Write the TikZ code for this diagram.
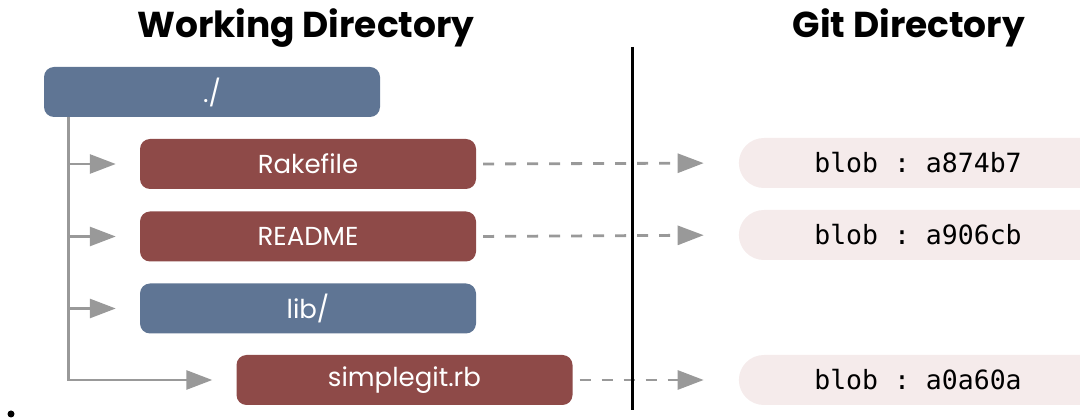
\documentclass[tikz,border=0pt]{standalone}
\usepackage{fontspec}
\setmainfont{Poppins}
\setmonofont{DejaVu Sans Mono}
\usepackage{tikz}
\usetikzlibrary{arrows.meta,positioning,shapes.misc}
\definecolor{dirblue}{HTML}{5F7594}
\definecolor{filered}{HTML}{8E4A48}
\definecolor{blobpink}{HTML}{F5EBEB}
\definecolor{treegray}{HTML}{999999}
\tikzset{
  dirbox/.style={rectangle,rounded corners=10pt,fill=dirblue,text=white,
    minimum width=336pt,minimum height=50pt,inner sep=0pt,
    font=\fontsize{26}{30}\selectfont},
  filebox/.style={dirbox,fill=filered},
  blobbox/.style={rounded rectangle,rounded rectangle right arc=none,
    fill=blobpink,minimum width=356pt,minimum height=50pt,inner sep=0pt,
    font=\ttfamily\fontsize{26.5}{30}\selectfont},
  title/.style={font=\bfseries\fontsize{36}{42}\selectfont},
  treearrow/.style={treegray,line width=2.8pt,shorten >=24pt,
    -{Triangle[length=26pt,width=19pt]}},
  blobarrow/.style={treegray,line width=2.8pt,dash pattern=on 11pt off 11pt,
    shorten <=7pt,shorten >=35pt,-{Triangle[length=26pt,width=19pt]}}
}

\begin{document}
\begin{tikzpicture}[x=1pt,y=-1pt]
      \useasboundingbox (0,0) rectangle (1080,419);
      \node[title] (wdtitle) at (306,28) {Working Directory};
      \node[title] (gdtitle) at (909,28) {Git Directory};

      \node[dirbox] (root) at (212,92) {./};
      \node[filebox] (rake) at (308,164) {Rakefile};
      \node[filebox] (readme) at (308,236.5) {README};
      \node[dirbox] (lib) at (308,308.5) {lib/};
      \node[filebox] (simplegit) at (404.5,380) {simplegit.rb};

      \node[blobbox] (blobrake) at (918,163) {blob : a874b7};
      \node[blobbox] (blobreadme) at (918,235) {blob : a906cb};
      \node[blobbox] (blobsimplegit) at (918,380) {blob : a0a60a};

      \coordinate (trunk) at ([xshift=25pt]root.south west);
      \draw[treearrow] (trunk) |- (rake.west);
      \draw[treearrow] (trunk) |- (readme.west);
      \draw[treearrow] (trunk) |- (lib.west);
      \draw[treearrow] (trunk) |- (simplegit.west);

      \draw[blobarrow] (rake.east) -- (blobrake.west);
      \draw[blobarrow] (readme.east) -- (blobreadme.west);
      \draw[blobarrow] (simplegit.east) -- (blobsimplegit.west);

      \coordinate (divtop) at (632,47);
      \coordinate (divbottom) at (632,410);
      \draw[line width=3pt] (divtop) -- (divbottom);

      \node[circle,fill,inner sep=0pt,minimum size=7pt] (dot) at (11,414) {};
    \end{tikzpicture}
\end{document}
